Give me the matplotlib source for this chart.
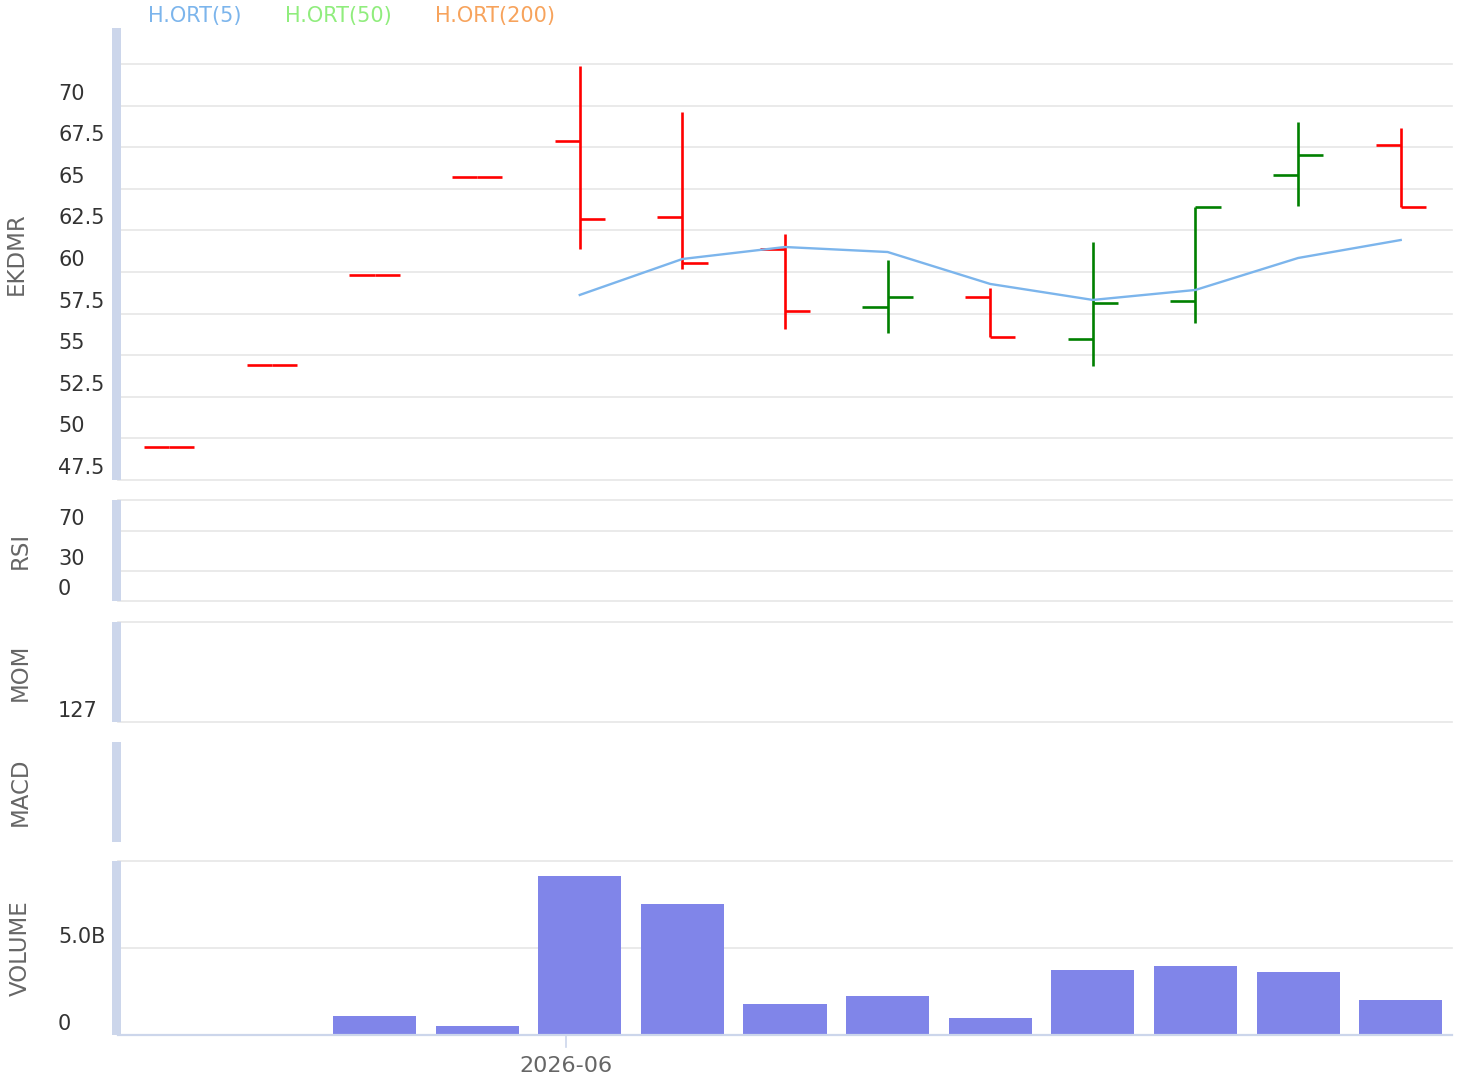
import numpy as np
import matplotlib.pyplot as plt
from matplotlib.patches import Rectangle
from matplotlib.transforms import blended_transform_factory, ScaledTranslation

# OHLC values
opens  = [49.48, 54.41, 59.82, 65.71, 67.87, 63.31, 61.38, 57.90, 58.50, 55.97, 58.26, 65.83, 67.63]
highs  = [49.48, 54.41, 59.82, 65.71, 72.38, 69.62, 62.28, 60.72, 59.04, 61.80, 63.91, 69.01, 68.65]
lows   = [49.48, 54.41, 59.82, 65.71, 61.38, 60.18, 56.57, 56.33, 56.09, 54.35, 56.94, 63.97, 63.91]
closes = [49.48, 54.41, 59.82, 65.71, 63.18, 60.54, 57.66, 58.50, 56.09, 58.14, 63.91, 67.03, 63.91]
ma5 = [np.nan, np.nan, np.nan, np.nan, 58.62, 60.78, 61.50, 61.20, 59.28, 58.32, 58.92, 60.84, 61.92]
volumes_b = [0, 0, 1.09, 0.52, 9.14, 7.53, 1.78, 2.24, 0.98, 3.74, 3.97, 3.62, 2.01]

price_ticks = [47.5, 50, 52.5, 55, 57.5, 60, 62.5, 65, 67.5, 70, 72.5]
price_labels = ['47.5', '50', '52.5', '55', '57.5', '60', '62.5', '65', '67.5', '70', '']
rsi_ticks = [0, 30, 70, 101]
rsi_labels = ['0', '30', '70', '']
mom_ticks = [127, 227]
mom_labels = ['127', '']
vol_ticks = [0, 5, 10]
vol_labels = ['0', '5.0B', '']
date_tick = 3.866
date_label = '2026-06'

legend_names = ['H.ORT(5)', 'H.ORT(50)', 'H.ORT(200)']
legend_colors = ['#7cb5ec', '#90ed7d', '#f7a35c']

W, H = 1464, 1077
fig = plt.figure(figsize=(W / 100, H / 100), dpi=100)

GRID = '#e6e6e6'
AXC = '#ccd6eb'
LEFT, RIGHT = 118, 1452


def add_panel(top, bottom):
    ax = fig.add_axes([LEFT / W, 1 - bottom / H, (RIGHT - LEFT) / W, (bottom - top) / H])
    ax.set_xlim(-0.5, 12.5)
    ax.axis('off')
    fig.add_artist(Rectangle((112 / W, 1 - bottom / H), 9 / W, (bottom - top) / H,
                             transform=fig.transFigure, color=AXC, lw=0))
    return ax


def add_ticks(ax, values, labels, dy=12):
    tr = blended_transform_factory(
        fig.transFigure, ax.transData + ScaledTranslation(0, dy / 100, fig.dpi_scale_trans))
    for v, lab in zip(values, labels):
        ax.axhline(v, color=GRID, lw=1.2, clip_on=False, zorder=0)
        if lab:
            ax.text(58 / W, v, lab, transform=tr, ha='left', va='center',
                    fontsize=15, color='#333333')


# main price panel
ax = add_panel(28, 480)
ax.set_ylim(47.5, 74.66)
add_ticks(ax, price_ticks, price_labels)
for i in range(len(opens)):
    c = '#008000' if closes[i] > opens[i] else '#ff0000'
    if highs[i] > lows[i]:
        ax.vlines(i, lows[i], highs[i], color=c, lw=1.9)
    ax.hlines(opens[i], i - 0.245, i, color=c, lw=1.9)
    ax.hlines(closes[i], i, i + 0.245, color=c, lw=1.9)
ax.plot(range(len(ma5)), ma5, color='#7cb5ec', lw=1.7, zorder=3)

# RSI
ax_rsi = add_panel(500, 601)
ax_rsi.set_ylim(0, 101)
add_ticks(ax_rsi, rsi_ticks, rsi_labels)

# MOM
ax_mom = add_panel(622, 722)
ax_mom.set_ylim(127, 227)
add_ticks(ax_mom, mom_ticks, mom_labels, dy=11)

# MACD
ax_macd = add_panel(742, 842)
ax_macd.set_ylim(0, 1)

# volume
ax_vol = add_panel(861, 1035)
ax_vol.set_ylim(0, 10)
add_ticks(ax_vol, vol_ticks, vol_labels, dy=11)
ax_vol.bar(range(len(volumes_b)), volumes_b, width=0.81, color='#8085e9', zorder=2)
ax_vol.axhline(0, color=AXC, lw=1.6, clip_on=False, zorder=3)
tr = blended_transform_factory(ax_vol.transData, ax_vol.transAxes)
ax_vol.plot([date_tick, date_tick], [0, -12 / 174], color=AXC, lw=1.2,
            transform=tr, clip_on=False)
ax_vol.text(date_tick, -31 / 174, date_label, transform=tr, ha='center', va='center',
            fontsize=16, color='#666666')

# axis titles
for name, x, y in [('EKDMR', 16, 254), ('RSI', 20, 550), ('MOM', 20, 672),
                   ('MACD', 20, 792), ('VOLUME', 20, 948)]:
    fig.text(x / W, 1 - y / H, name, rotation=90, ha='center', va='center',
             fontsize=16.5, color='#666666')

# legend
for name, col, x in zip(legend_names, legend_colors, [148, 285, 435]):
    fig.text(x / W, 1 - 16 / H, name, ha='left', va='center', fontsize=15, color=col)

fig.savefig('out.png', dpi=100, facecolor='white')
